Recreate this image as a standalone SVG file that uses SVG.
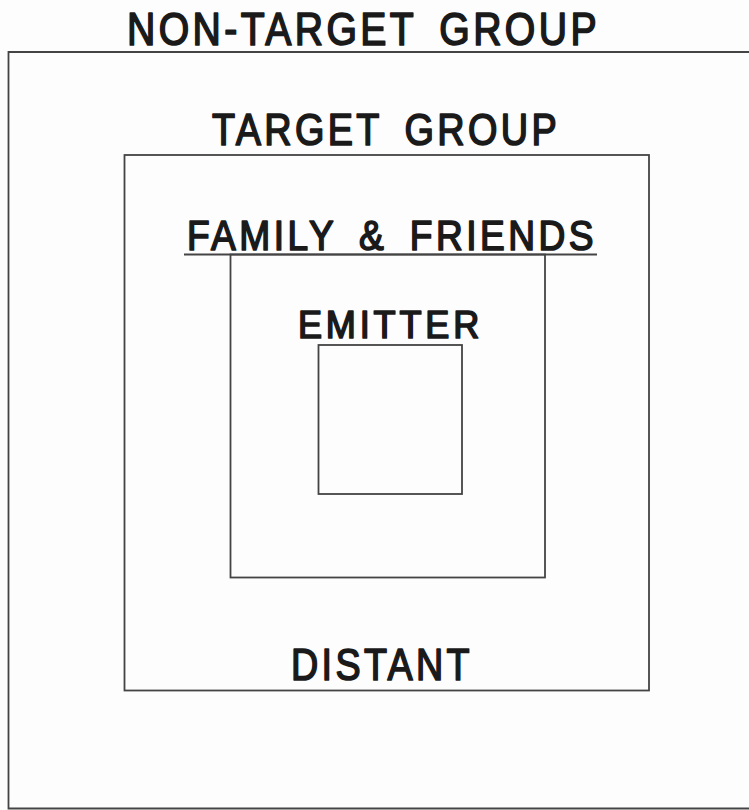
<svg xmlns="http://www.w3.org/2000/svg" width="749" height="810" viewBox="0 0 749 810">
<style>
.box{fill:none;stroke:#444;stroke-width:1.8}
.lbl{font-family:"Liberation Sans",Arial,sans-serif;fill:#1a1a1a;stroke:#1a1a1a;stroke-width:1.7;stroke-linejoin:round;letter-spacing:4px;word-spacing:10px}
</style>
<rect width="749" height="810" fill="#fdfdfd"/>
<g id="non-target-group">
<path class="box" d="M760 52 H8.5 V808.5 H760"/>
<text class="lbl" x="127" y="45" font-size="46" textLength="473" lengthAdjust="spacingAndGlyphs">NON-TARGET GROUP</text>
</g>
<g id="target-group">
<rect class="box" x="124.5" y="155" width="524.5" height="535.5"/>
<text class="lbl" x="212" y="145" font-size="45" textLength="348" lengthAdjust="spacingAndGlyphs">TARGET GROUP</text>
</g>
<g id="family-friends">
<rect class="box" x="230.5" y="254.5" width="314.5" height="323"/>
<line class="box" x1="184" y1="254.5" x2="597" y2="254.5"/>
<text class="lbl" x="187" y="250" font-size="42.5" textLength="410" lengthAdjust="spacingAndGlyphs">FAMILY &amp; FRIENDS</text>
</g>
<g id="emitter">
<rect class="box" x="318.5" y="345" width="143.5" height="149"/>
<text class="lbl" x="298" y="337.5" font-size="38" textLength="185" lengthAdjust="spacingAndGlyphs">EMITTER</text>
</g>
<g id="distant">
<text class="lbl" x="291" y="680" font-size="45" textLength="182" lengthAdjust="spacingAndGlyphs">DISTANT</text>
</g>
<g id="connectors"></g>
</svg>
